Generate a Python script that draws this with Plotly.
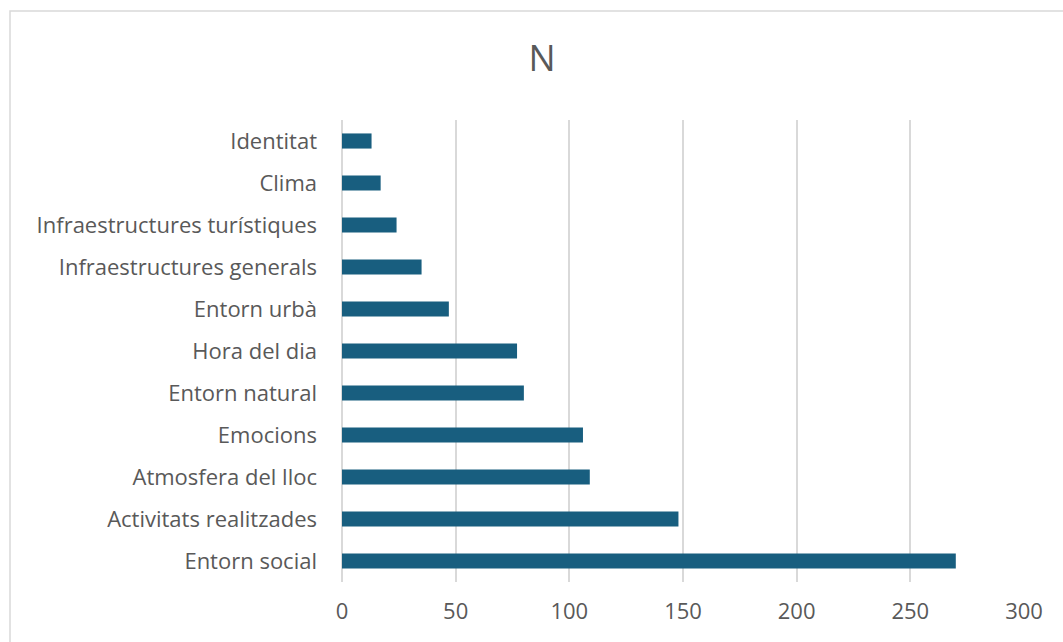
import plotly.graph_objects as go

# Category counts, listed bottom to top
categories = [
    "Entorn social",
    "Activitats realitzades",
    "Atmosfera del lloc",
    "Emocions",
    "Entorn natural",
    "Hora del dia",
    "Entorn urbà",
    "Infraestructures generals",
    "Infraestructures turístiques",
    "Clima",
    "Identitat",
]
counts = [270, 148, 109, 106, 80, 77, 47, 35, 24, 17, 13]
x_ticks = [0, 50, 100, 150, 200, 250, 300]

FONT = "Open Sans"
TEXT = "#595959"

fig = go.Figure(
    go.Bar(
        x=counts,
        y=categories,
        orientation="h",
        marker=dict(color="#185E7F", line=dict(color="#185E7F", width=0)),
        hoverinfo="x+y",
    )
)

# Outer chart frame (left/top edges visible)
L, R, T, B = 342, 1024, 120, 582
W, H = R - L, B - T
fig.add_shape(
    type="rect",
    xref="paper", yref="paper",
    x0=(10 - L) / W, x1=(1080 - L) / W,
    y0=(B - 660) / H, y1=(B - 11) / H,
    line=dict(color="#D9D9D9", width=1.5),
    fillcolor="rgba(0,0,0,0)",
    layer="below",
)

fig.update_layout(
    width=1063,
    height=642,
    margin=dict(l=L, r=1063 - R, t=T, b=642 - B),
    paper_bgcolor="white",
    plot_bgcolor="white",
    bargap=0.64,
    showlegend=False,
    title=dict(
        text="N",
        x=542 / 1063,
        xanchor="center",
        y=1 - 58 / 642,
        yanchor="middle",
        font=dict(family=FONT, size=36, color=TEXT),
    ),
    xaxis=dict(
        range=[0, 300],
        tickvals=x_ticks,
        ticktext=[str(v) for v in x_ticks],
        showgrid=True,
        gridcolor="#D9D9D9",
        gridwidth=1.5,
        zeroline=True,
        zerolinecolor="#D9D9D9",
        zerolinewidth=1.5,
        showline=False,
        ticks="",
        ticklabelstandoff=14,
        tickfont=dict(family=FONT, size=22, color=TEXT),
        fixedrange=True,
    ),
    yaxis=dict(
        categoryorder="array",
        categoryarray=categories,
        showgrid=False,
        zeroline=False,
        showline=False,
        ticks="",
        ticklabelstandoff=24,
        tickfont=dict(family=FONT, size=22, color=TEXT),
        fixedrange=True,
    ),
)

fig.write_html("out.html")
